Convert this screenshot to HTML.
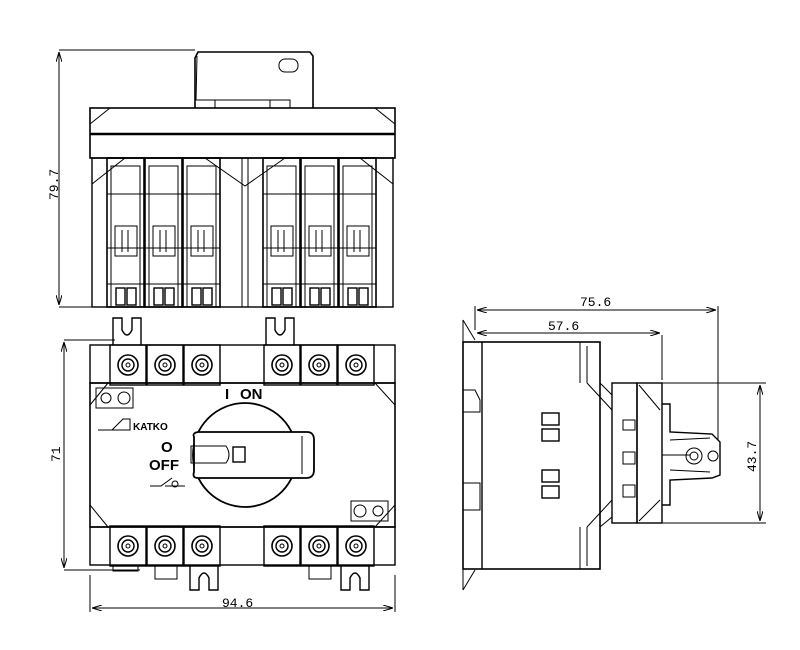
<!DOCTYPE html>
<html><head><meta charset="utf-8"><style>html,body{margin:0;background:#fff}svg{display:block}</style></head><body>
<svg width="800" height="650" viewBox="0 0 800 650" xmlns="http://www.w3.org/2000/svg" font-family="Liberation Mono, DejaVu Sans Mono, monospace">
<defs>
<marker id="a" markerWidth="10" markerHeight="6" refX="10" refY="3" orient="auto-start-reverse"><path d="M0,0 L10,3 L0,6" fill="none" stroke="#000" stroke-width="1"/></marker>
<g id="pole">
<rect x="0" y="0" width="37" height="149" fill="none" stroke="#000" stroke-width="1.6"/>
<rect x="4" y="8" width="29" height="141" fill="none" stroke="#000" stroke-width="1"/>
<line x1="0" y1="36" x2="37" y2="36" stroke="#000"/>
<line x1="0" y1="90" x2="37" y2="90" stroke="#000"/>
<line x1="0" y1="126" x2="37" y2="126" stroke="#000"/>
<rect x="8" y="68" width="22" height="30" fill="none" stroke="#000"/>
<line x1="15" y1="72" x2="15" y2="94" stroke="#000"/><line x1="21" y1="72" x2="21" y2="94" stroke="#000"/>
<rect x="9" y="130" width="9" height="17" fill="none" stroke="#000" stroke-width="1.4"/>
<rect x="20" y="130" width="9" height="17" fill="none" stroke="#000" stroke-width="1.4"/>
</g>
<g id="term">
<rect x="-18" y="-20" width="36" height="40" fill="none" stroke="#000" stroke-width="1.4"/>
<circle r="10" fill="none" stroke="#000" stroke-width="1.6"/>
<circle r="6" fill="none" stroke="#000" stroke-width="1.4"/>
<circle r="2" fill="none" stroke="#000"/>
</g>
</defs>
<g stroke="#000" fill="none" stroke-width="1">
<!-- top view -->
<line x1="59" y1="50" x2="195" y2="50"/><line x1="59" y1="307" x2="92" y2="307"/>
<line x1="59" y1="52" x2="59" y2="305" marker-start="url(#a)" marker-end="url(#a)"/>
<path d="M195,108 V58 L198,52 H310 L313,56 V108" stroke-width="1.6"/>
<path d="M197,56 L196,100 H290 V108" />
<rect x="215" y="100" width="55" height="8"/>
<rect x="279" y="59" width="19" height="13" rx="6"/>
<rect x="90" y="108" width="305" height="50" stroke-width="1.6"/>
<line x1="90" y1="134" x2="395" y2="134" stroke-width="2.5"/>
<path d="M90,124 L110,108 M395,124 L375,108"/>
<rect x="92" y="158" width="301" height="149" stroke-width="1.4"/>
<path d="M92,184 L125,158 M393,184 L360,158 M205,158 L245,186 L285,158" />
<line x1="242" y1="158" x2="242" y2="307"/><line x1="248" y1="158" x2="248" y2="307"/>
<use href="#pole" x="107" y="158"/><use href="#pole" x="145" y="158"/><use href="#pole" x="183" y="158"/>
<use href="#pole" x="263" y="158"/><use href="#pole" x="301" y="158"/><use href="#pole" x="339" y="158"/>
<!-- front view -->
<line x1="64" y1="340" x2="115" y2="340"/><line x1="64" y1="570" x2="140" y2="570"/>
<line x1="64" y1="342" x2="64" y2="568" marker-start="url(#a)" marker-end="url(#a)"/>
<line x1="90" y1="575" x2="90" y2="612"/><line x1="395" y1="575" x2="395" y2="612"/>
<line x1="92" y1="608" x2="393" y2="608" marker-start="url(#a)" marker-end="url(#a)"/>
<rect x="90" y="345" width="305" height="38" stroke-width="1.4"/>
<rect x="90" y="527" width="305" height="38" stroke-width="1.4"/>
<path d="M113,345 V318 H122 V330 Q127,340 132,330 V318 H141 V345" stroke-width="1.4"/>
<path d="M266,345 V318 H275 V330 Q280,340 285,330 V318 H294 V345" stroke-width="1.4"/>
<path d="M190,565 V590 H199 V578 Q204,568 209,578 V590 H218 V565" stroke-width="1.4"/>
<path d="M341,565 V590 H350 V578 Q355,568 360,578 V590 H369 V565" stroke-width="1.4"/>
<rect x="155" y="565" width="22" height="14"/><rect x="309" y="565" width="22" height="14"/>
<rect x="113" y="565" width="25" height="6"/>
<use href="#term" x="128" y="365"/><use href="#term" x="165" y="365"/><use href="#term" x="202" y="365"/>
<use href="#term" x="282" y="365"/><use href="#term" x="319" y="365"/><use href="#term" x="356" y="365"/>
<use href="#term" x="128" y="546"/><use href="#term" x="165" y="546"/><use href="#term" x="202" y="546"/>
<use href="#term" x="282" y="546"/><use href="#term" x="319" y="546"/><use href="#term" x="356" y="546"/>
<rect x="90" y="383" width="305" height="144" stroke-width="1.6"/>
<path d="M90,405 L108,383 M395,405 L375,383 M90,505 L108,527 M395,505 L375,527"/>
<rect x="96" y="388" width="37" height="20"/><circle cx="106" cy="398" r="5"/><circle cx="124" cy="398" r="6"/>
<rect x="351" y="501" width="37" height="20"/><circle cx="378" cy="511" r="5"/><circle cx="360" cy="511" r="6"/>
<path d="M98,430 H112 L123,419 H130 V430 H98 Z"/>
<circle cx="245" cy="455" r="52" stroke-width="1.8" fill="#fff"/>
<path d="M194,437 Q192,433 198,432 H307 Q314,432 314,440 V470 Q314,478 306,478 H198 Q192,478 194,472 Z" fill="#fff" stroke-width="1.8"/>
<path d="M191,446 H226 Q232,455 226,463 H191 Z"/>
<rect x="233" y="447" width="12" height="15" stroke-width="1.4"/>
<line x1="302" y1="436" x2="302" y2="474"/>
<path d="M150,486 H161 L172,478 M165,486 H185"/>
<circle cx="175" cy="484" r="3"/>
<!-- side view -->
<line x1="475" y1="306" x2="475" y2="330"/><line x1="718" y1="306" x2="718" y2="440"/><line x1="662" y1="335" x2="662" y2="380"/>
<line x1="477" y1="310" x2="716" y2="310" marker-start="url(#a)" marker-end="url(#a)"/>
<line x1="477" y1="333" x2="660" y2="333" marker-start="url(#a)" marker-end="url(#a)"/>
<line x1="660" y1="383" x2="766" y2="383"/><line x1="660" y1="523" x2="766" y2="523"/>
<line x1="760" y1="385" x2="760" y2="521" marker-start="url(#a)" marker-end="url(#a)"/>
<path d="M463,320 V590 M463,320 L475,340 M463,590 L475,570"/>
<rect x="463" y="342" width="137" height="227" stroke-width="1.6"/>
<path d="M463,390 H475 L480,400 V412 H463 M463,483 H480 V510 H463"/>
<line x1="482" y1="342" x2="482" y2="569" stroke-width="1.4"/>
<path d="M580,342 V383 M580,527 V569 M587,346 V383 M587,527 V566"/>
<path d="M600,383 L612,395 V517 L600,527 M587,383 L612,410 M587,527 L612,500"/>
<rect x="612" y="383" width="25" height="140" stroke-width="1.4"/>
<rect x="637" y="383" width="25" height="140" stroke-width="1.4"/>
<path d="M639,385 L660,410 M639,521 L660,500"/>
<rect x="623" y="420" width="12" height="10"/><rect x="623" y="452" width="12" height="12"/><rect x="623" y="485" width="12" height="12"/>
<rect x="542" y="413" width="17" height="12" stroke-width="1.4"/><rect x="542" y="429" width="17" height="12" stroke-width="1.4"/>
<rect x="542" y="470" width="17" height="12" stroke-width="1.4"/><rect x="542" y="486" width="17" height="12" stroke-width="1.4"/>
<path d="M662,404 H670 V432 L712,434 L720,442 V475 L712,478 L670,480 V505 H662" stroke-width="1.4"/>
<path d="M670,440 L710,438 M670,470 L710,472 M662,455 H690"/>
<circle cx="694" cy="456" r="8"/><circle cx="694" cy="456" r="4"/>
<circle cx="713" cy="456" r="5"/>
</g>
<g font-size="13" fill="#000">
<text x="225" y="399" font-family="Liberation Sans, sans-serif" font-weight="bold" font-size="15">I</text>
<text x="240" y="399" font-family="Liberation Sans, sans-serif" font-weight="bold" font-size="15">ON</text>
<text x="161" y="452" font-family="Liberation Sans, sans-serif" font-weight="bold" font-size="15">O</text>
<text x="149" y="470" font-family="Liberation Sans, sans-serif" font-weight="bold" font-size="15">OFF</text>
<text x="133" y="430" font-family="Liberation Sans, sans-serif" font-weight="bold" font-size="10">KATKO</text>
<text x="222" y="607">94.6</text>
<text x="580" y="306">75.6</text>
<text x="548" y="330">57.6</text>
<text transform="translate(58,200) rotate(-90)">79.7</text>
<text transform="translate(60,462) rotate(-90)">71</text>
<text transform="translate(756,472) rotate(-90)">43.7</text>
</g>
</svg>
</body></html>
